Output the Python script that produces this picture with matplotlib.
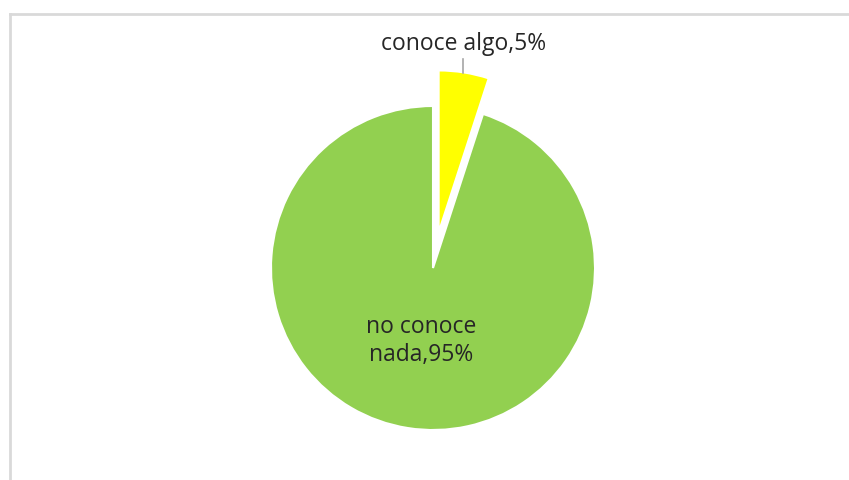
import matplotlib
matplotlib.use("Agg")
import matplotlib.pyplot as plt
from matplotlib.lines import Line2D

# datos
categorias = ["conoce algo", "no conoce nada"]
porcentajes = [5, 95]
etiquetas = ["conoce algo,5%", "no conoce\nnada,95%"]
colores = ["#FFFF00", "#92D050"]
separacion = [36, 0]   # en unidades de datos (px)

W, H = 849, 480
fig = plt.figure(figsize=(W / 100, H / 100), dpi=100)
ax = fig.add_axes([0, 0, 1, 1])
ax.set_xlim(0, W)
ax.set_ylim(0, H)
ax.set_aspect("equal")
ax.axis("off")

# marco gris (solo arriba e izquierda, como en el recorte)
fig.add_artist(Line2D([10 / W, 1], [1 - 14 / H, 1 - 14 / H],
                      color="#d9d9d9", lw=2))
fig.add_artist(Line2D([10 / W, 10 / W], [0, 1 - 14 / H],
                      color="#d9d9d9", lw=2))

cx, cy, r = 433, H - 268, 162
ax.pie(porcentajes, colors=colores, explode=separacion, startangle=90,
       counterclock=False, center=(cx, cy), radius=r,
       wedgeprops=dict(edgecolor="white", linewidth=1.5))
ax.set_xlim(0, W)
ax.set_ylim(0, H)

fuente = ["Open Sans", "DejaVu Sans"]
ax.text(464, H - 44, etiquetas[0], ha="center", va="center",
        fontsize=16.5, color="#262626", family=fuente)
ax.plot([463, 463], [H - 59, H - 73], color="#a6a6a6", lw=1.2)
ax.text(421, H - 341, etiquetas[1], ha="center", va="center",
        fontsize=16.5, color="#262626", family=fuente, linespacing=1.2)

fig.savefig("out.png", dpi=100)
